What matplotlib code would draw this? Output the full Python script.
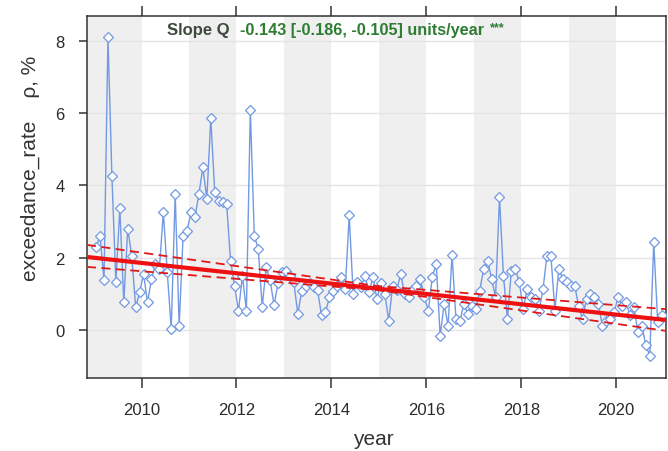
import numpy as np
import matplotlib
matplotlib.use("Agg")
import matplotlib.pyplot as plt

# ---------------- data ----------------
start_year = 2009
exceedance_rate = [
    2.30, 2.60, 1.37, 8.10, 4.25, 1.33, 3.37, 0.77, 2.80, 2.06, 0.63, 1.04,   # 2009
    1.55, 0.77, 1.40, 1.83, 1.69, 3.26, 1.60, 0.03, 3.77, 0.12, 2.61, 2.75,   # 2010
    3.26, 3.12, 3.77, 4.50, 3.63, 5.86, 3.81, 3.58, 3.54, 3.49, 1.92, 1.23,   # 2011
    0.53, 1.50, 0.53, 6.10, 2.61, 2.24, 0.63, 1.74, 1.37, 0.69, 1.30, 1.60,   # 2012
    1.64, 1.50, 1.32, 0.44, 1.09, 1.23, 1.30, 1.18, 1.10, 0.40, 0.49, 0.91,   # 2013
    1.09, 1.23, 1.46, 1.14, 3.17, 1.00, 1.32, 1.20, 1.50, 1.04, 1.46, 0.86,   # 2014
    1.30, 1.00, 0.26, 1.23, 1.10, 1.55, 1.00, 0.91, 1.10, 1.23, 1.41, 0.91,   # 2015
    0.53, 1.46, 1.83, -0.16, 0.72, 0.12, 2.08, 0.30, 0.26, 0.72, 0.44, 0.67,  # 2016
    0.58, 1.09, 1.69, 1.92, 1.41, 0.91, 3.67, 1.50, 0.30, 1.64, 1.69, 1.32,   # 2017
    0.58, 1.14, 0.91, 0.86, 0.53, 1.14, 2.06, 2.06, 0.53, 1.69, 1.41, 1.32,   # 2018
    1.23, 1.23, 0.67, 0.30, 0.86, 1.00, 0.91, 0.72, 0.12, 0.26, 0.30, 0.50,   # 2019
    0.91, 0.67, 0.77, 0.40, 0.63, -0.06, 0.12, -0.43, -0.71, 2.43, 0.21, 0.40 # 2020
]
slope = -0.143
slope_lower = -0.186
slope_upper = -0.105
trend_center_year = 2015.0
trend_center_value = 1.14
year_ticks = [2010, 2012, 2014, 2016, 2018, 2020]
y_ticks = [0, 2, 4, 6, 8]

# ---------------- figure ----------------
plt.rcParams['font.family'] = ['Liberation Sans', 'DejaVu Sans']
fig = plt.figure(figsize=(6.68, 4.52), dpi=100)
ax = fig.add_axes([87/668, 1-379/452, (666-87)/668, (379-17)/452])

xmin, xmax = 2008.85, 2021.05
ymin, ymax = -1.33, 8.69
ax.set_xlim(xmin, xmax)
ax.set_ylim(ymin, ymax)

# alternating year shading
for y0 in range(2009, 2021, 2):
    ax.axvspan(max(y0, xmin), y0 + 1, color='#efefef', lw=0, zorder=0)
if xmin < 2009:
    ax.axvspan(xmin, 2009, color='#efefef', lw=0, zorder=0)

for yt in y_ticks:
    ax.axhline(yt, color='#e4e4e4', lw=1.0, zorder=0.5)

vals = np.array(exceedance_rate)
t = start_year + (np.arange(len(vals)) + 0.5) / 12.0
ax.plot(t, vals, color='#7299e2', lw=1.0, marker='D', markersize=4.6,
        markerfacecolor='white', markeredgecolor='#7299e2', markeredgewidth=0.9, zorder=3)

tt = np.array([xmin, xmax])
ax.plot(tt, trend_center_value + slope * (tt - trend_center_year), color='#ee1111', lw=3.0, zorder=4)
tl = np.linspace(xmin, xmax, 3)
up = np.maximum(trend_center_value + slope_lower * (tl - trend_center_year),
                trend_center_value + slope_upper * (tl - trend_center_year)) + 0.07
lo = np.minimum(trend_center_value + slope_lower * (tl - trend_center_year),
                trend_center_value + slope_upper * (tl - trend_center_year)) - 0.04
ax.plot(tl, up, color='#e01818', lw=1.3, ls=(0, (5, 3)), zorder=4)
ax.plot(tl, lo, color='#e01818', lw=1.3, ls=(0, (5, 3)), zorder=4)

# axes styling
for s in ax.spines.values():
    s.set_color('#333333')
    s.set_linewidth(1.1)
ax.set_xticks(year_ticks)
ax.set_xticklabels([str(y) for y in year_ticks])
ax.set_yticks(y_ticks)
ax.tick_params(axis='x', which='both', direction='out', length=7, width=1.1,
               color='#333333', labelcolor='#2b2b2b', labelsize=12, top=True, pad=10)
ax.tick_params(axis='y', direction='out', length=6, width=1.1, color='#333333',
               labelcolor='#2b2b2b', labelsize=12, right=False, pad=10)
ax.tick_params(axis='x', labeltop=False)

fig.text(373/668, 1-440/452, 'year', ha='center', va='center', fontsize=15, color='#333333')
fig.text(30/668, 1-168/452, 'exceedance_rate    \u03c1, %', ha='center', va='center',
         rotation=90, fontsize=15, color='#333333')

fig.text(167/668, 1-31/452, 'Slope Q', ha='left', va='center', fontsize=12,
         fontweight='bold', color='#3d4a3d')
fig.text(240/668, 1-31/452, '-0.143 [-0.186, -0.105] units/year', ha='left', va='center',
         fontsize=11.7, fontweight='bold', color='#2e7d32')
fig.text(490/668, 1-28/452, '***', ha='left', va='center', fontsize=9,
         fontweight='bold', color='#2e7d32')

fig.savefig('out.png', dpi=100)
